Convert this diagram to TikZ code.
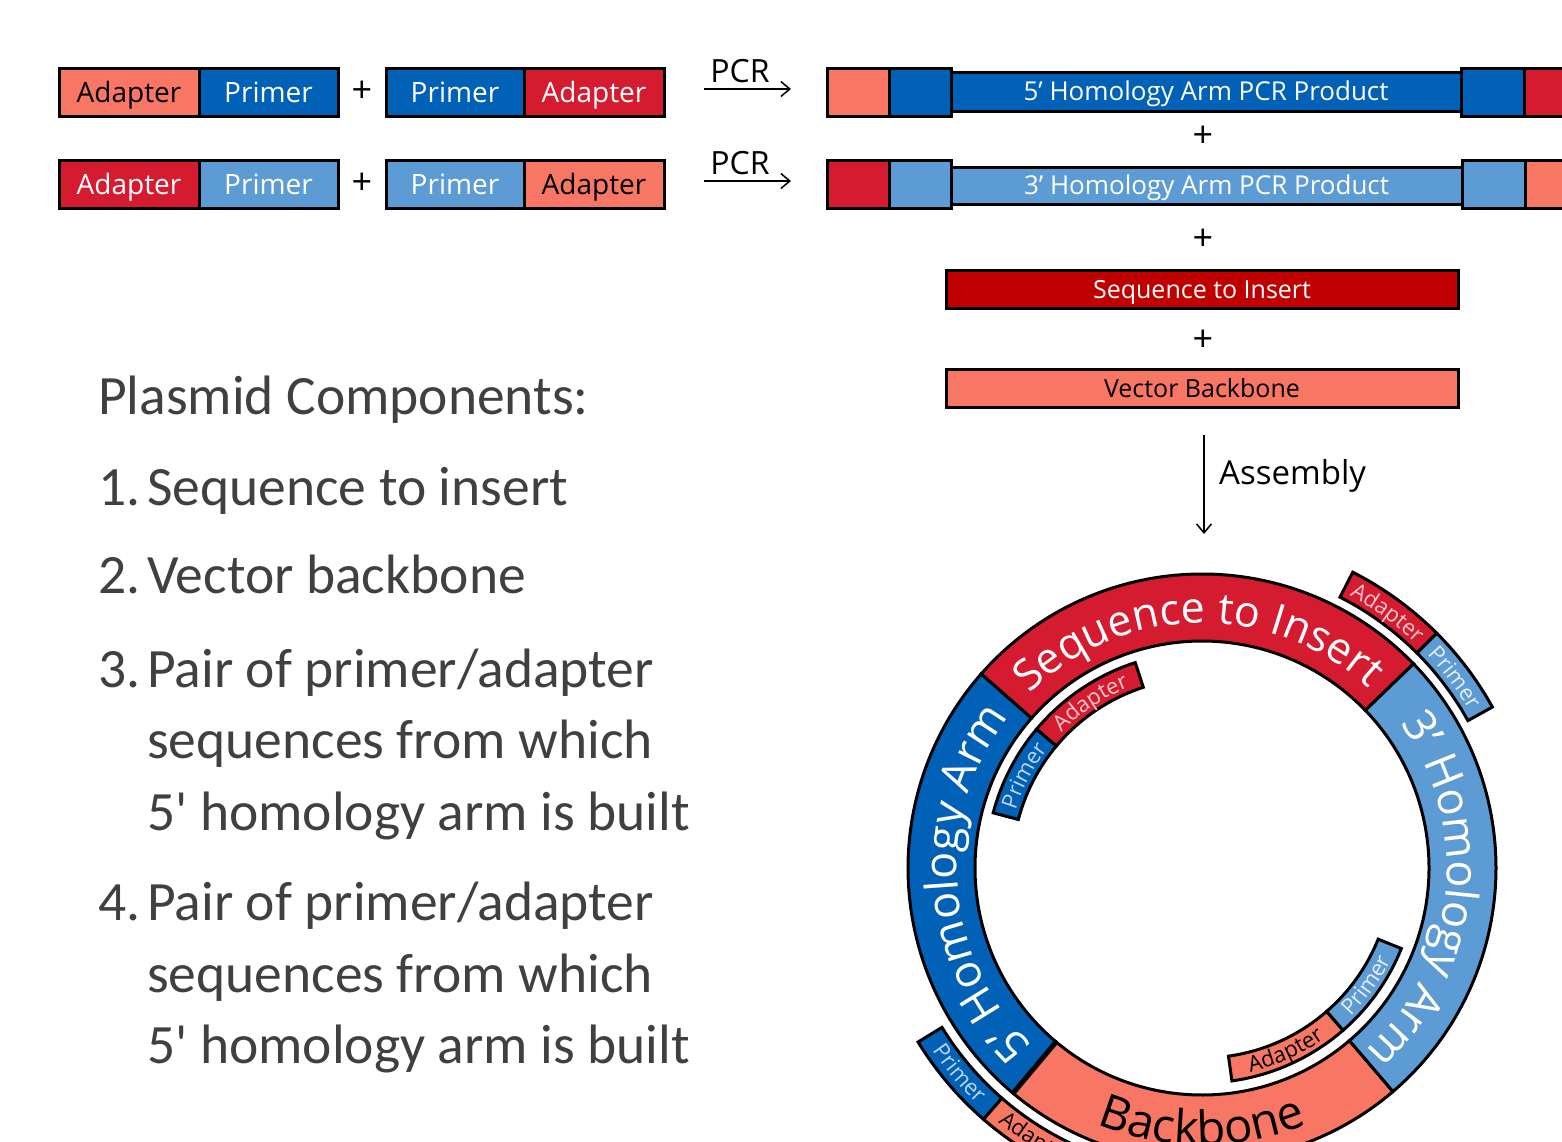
\documentclass[tikz,border=0pt]{standalone}
\usepackage{fontspec}
\setmainfont{Open Sans}
\newfontfamily\listfont{Carlito}
\usetikzlibrary{decorations.text,arrows.meta}
\definecolor{salmon}{RGB}{248,118,100}
\definecolor{dblue}{RGB}{0,97,182}
\definecolor{ared}{RGB}{213,27,47}
\definecolor{lblue}{RGB}{92,155,211}
\definecolor{dred}{RGB}{192,0,0}
\definecolor{listgray}{RGB}{64,64,64}
\definecolor{onred}{RGB}{250,200,206}
\definecolor{ondblue}{RGB}{190,212,240}
\definecolor{onlblue}{RGB}{228,238,249}
% annular segment: fill, angle1, angle2, r inner, r outer
\newcommand\ringseg[5]{%
  \filldraw[fill=#1, draw=black, line width=3pt]
    ([shift={(#2:#5)}]C) arc[start angle=#2, end angle=#3, radius=#5]
    -- ([shift={(#3:#4)}]C) arc[start angle=#3, end angle=#2, radius=#4] -- cycle;}
% text along an arc: start, end, radius, size, colour, text
\newcommand\arctext[6]{%
  \path[decorate, decoration={text along path, text align=center,
     text={|\fontsize{#4}{#4}\selectfont\color{#5}|#6}}]
    ([shift={(#1:#3)}]C) arc[start angle=#1, end angle=#2, radius=#3];}
\begin{document}
\begin{tikzpicture}[x=1pt,y=1pt,
  seg/.style={draw=black, line width=3pt, inner sep=0pt, minimum height=48pt,
    text height=20pt, text depth=0pt, font=\fontsize{28}{28}\selectfont},
  bar/.style={draw=black, line width=3pt, inner sep=0pt,
    text height=18pt, text depth=0pt, font=\fontsize{26}{26}\selectfont},
  plus/.style={font=\fontsize{36}{36}\selectfont, inner sep=0pt},
  listtxt/.style={font=\listfont\fontsize{55.5}{55.5}\selectfont, text=listgray, anchor=base west, inner sep=0pt},
  flow/.style={line width=1.5pt, -{Straight Barb[length=9pt,width=15pt,line width=1.5pt]}},
  lbl/.style={font=\fontsize{32}{32}\selectfont, inner sep=0pt}
]
\useasboundingbox (0,0) rectangle (1562,-1141);
\clip (0,0) rectangle (1562,-1141);
\fill[white] (0,0) rectangle (1562,-1141);

% ---------- primer/adapter pairs ----------
\node[seg, fill=salmon, minimum width=140pt] (r1a) at (129,-92) {Adapter};
\node[seg, fill=dblue, text=white, minimum width=139pt] (r1b) at (268.5,-92) {Primer};
\node[plus] (p1) at (362,-92) {+};
\node[seg, fill=dblue, text=white, minimum width=138pt] (r1c) at (455,-92) {Primer};
\node[seg, fill=ared, text=white, minimum width=140pt] (r1d) at (594,-92) {Adapter};

\node[seg, fill=ared, text=white, minimum width=140pt] (r2a) at (129,-184) {Adapter};
\node[seg, fill=lblue, text=white, minimum width=139pt] (r2b) at (268.5,-184) {Primer};
\node[plus] (p2) at (362,-184) {+};
\node[seg, fill=lblue, text=white, minimum width=138pt] (r2c) at (455,-184) {Primer};
\node[seg, fill=salmon, minimum width=140pt] (r2d) at (594,-184) {Adapter};

% ---------- PCR arrows ----------
\coordinate (pcr1s) at (704,-89);
\coordinate (pcr1e) at (791,-89);
\coordinate (pcr2s) at (704,-181);
\coordinate (pcr2e) at (791,-181);
\draw[flow] (pcr1s) -- (pcr1e);
\draw[flow] (pcr2s) -- (pcr2e);
\node[lbl, anchor=base] (pcr1) at (740,-82) {PCR};
\node[lbl, anchor=base] (pcr2) at (740,-174) {PCR};

% ---------- PCR products ----------
\node[bar, fill=dblue, text=white, minimum width=510pt, minimum height=39pt] (q1c) at (1206,-91.5) {5’ Homology Arm PCR Product};
\node[seg, fill=salmon, minimum width=62pt] (q1a) at (858,-92) {};
\node[seg, fill=dblue, minimum width=62pt] (q1b) at (920,-92) {};
\node[seg, fill=dblue, minimum width=63pt] (q1d) at (1492.5,-92) {};
\node[seg, fill=ared, minimum width=70pt] (q1e) at (1559,-92) {};

\node[plus] (p3) at (1203,-137) {+};

\node[bar, fill=lblue, text=white, minimum width=511pt, minimum height=37pt] (q2c) at (1206.5,-185.5) {3’ Homology Arm PCR Product};
\node[seg, fill=ared, minimum width=62pt] (q2a) at (858,-184.5) {};
\node[seg, fill=lblue, minimum width=62pt] (q2b) at (920,-184.5) {};
\node[seg, fill=lblue, minimum width=63pt] (q2d) at (1493.5,-184.5) {};
\node[seg, fill=salmon, minimum width=70pt] (q2e) at (1560,-184.5) {};

\node[plus] (p4) at (1203,-240) {+};
\node[bar, fill=dred, text=white, minimum width=512pt, minimum height=38pt, font=\fontsize{25}{25}\selectfont] (sti) at (1202,-289) {Sequence to Insert};
\node[plus] (p5) at (1203,-341) {+};
\node[bar, fill=salmon, minimum width=512pt, minimum height=38pt, font=\fontsize{25}{25}\selectfont] (vbb) at (1202,-388) {Vector Backbone};

% ---------- assembly arrow ----------
\coordinate (as1) at (1204,-435);
\coordinate (as2) at (1204,-534);
\draw[flow] (as1) -- (as2);
\node[lbl, anchor=west, font=\fontsize{33}{33}\selectfont] (asl) at (1219,-476) {Assembly};

% ---------- list ----------
\node[listtxt] (hd) at (98,-414) {Plasmid Components:};
\node[listtxt] (n1) at (98,-505) {1.};
\node[listtxt] (t1) at (147,-505) {Sequence to insert};
\node[listtxt] (n2) at (98,-593) {2.};
\node[listtxt] (t2) at (147,-593) {Vector backbone};
\node[listtxt] (n3) at (98,-687) {3.};
\node[listtxt] (t3a) at (147,-687) {Pair of primer/adapter};
\node[listtxt] (t3b) at (147,-758) {sequences from which};
\node[listtxt] (t3c) at (147,-830) {5\textquotesingle{} homology arm is built};
\node[listtxt] (n4) at (98,-920) {4.};
\node[listtxt] (t4a) at (147,-920) {Pair of primer/adapter};
\node[listtxt] (t4b) at (147,-992) {sequences from which};
\node[listtxt] (t4c) at (147,-1063) {5\textquotesingle{} homology arm is built};

% ---------- plasmid ring ----------
\coordinate (C) at (1202,-868);
\ringseg{ared}{44}{138.7}{227}{294}
\ringseg{dblue}{138.7}{230}{227}{294}
\ringseg{salmon}{230}{310.5}{227}{294}
\ringseg{lblue}{-49.5}{44}{227}{294}
\draw[line width=5pt] ([shift={(230:226)}]C) -- ([shift={(230:295)}]C);

% inner primer/adapter arcs
\ringseg{dblue}{140}{165.2}{190}{216}
\ringseg{ared}{108}{140}{190}{216}
\ringseg{salmon}{-82}{-49}{190}{215}
\ringseg{lblue}{-49}{-22}{190}{215}
% outer primer/adapter arcs
\ringseg{ared}{45}{63}{304}{332}
\ringseg{lblue}{29}{45}{304}{332}
\ringseg{dblue}{211.5}{229}{305}{333}
\ringseg{salmon}{229}{252}{305}{333}

% ring labels
\arctext{150}{32}{245}{43}{white}{Sequence to Insert}
\arctext{240}{128}{245}{45}{white}{5’ Homology Arm}
\arctext{50}{-62}{245}{45}{white}{3’ Homology Arm}
\arctext{225}{315}{277}{47}{black}{Backbone}

% small labels
\arctext{165.2}{140}{195}{22}{ondblue}{Primer}
\arctext{140}{108}{195}{22}{onred}{Adapter}
\arctext{-82}{-49}{210}{22}{black}{Adapter}
\arctext{-49}{-22}{210}{22}{onlblue}{Primer}
\arctext{63}{45}{310}{22}{onred}{Adapter}
\arctext{45}{29}{310}{22}{onlblue}{Primer}
\arctext{211.5}{229}{326}{22}{ondblue}{Primer}
\arctext{229}{248}{326}{22}{black}{Adapter}
\end{tikzpicture}
\end{document}
